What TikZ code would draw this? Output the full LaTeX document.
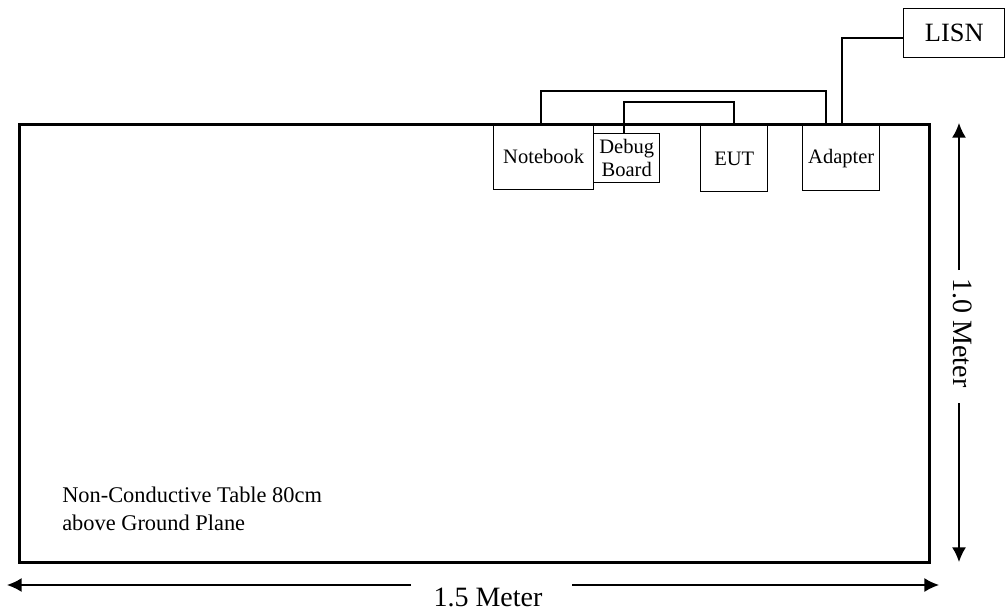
\documentclass[tikz,border=0pt]{standalone}
\usepackage{fontspec}
\setmainfont{Liberation Serif}
\usetikzlibrary{arrows.meta}
\begin{document}
\begin{tikzpicture}[x=0.75pt,y=-0.75pt,
  dev/.style={draw, line width=1.1pt, inner sep=0pt, font=\fontsize{15.4}{17}\selectfont, align=center},
  wire/.style={line width=0.8pt},
  dim/.style={line width=1.1pt},
  tip/.style={-{Latex[length=11pt,width=10.5pt]}}]
\useasboundingbox (0,0) rectangle (1007,611);
% table
\node[draw, line width=2.3pt, minimum width=910*0.75pt, minimum height=438.5*0.75pt, inner sep=0pt, anchor=north west] (tab) at (18,122.5) {};
\node[anchor=base west, inner sep=0pt, align=left, font=\fontsize{16.8}{21}\selectfont] (lbl) at (62,530) {Non-Conductive Table 80cm\\above Ground Plane};
% devices
\node[dev, minimum width=100*0.75pt, minimum height=66*0.75pt, anchor=north west] (nb) at (493,123) {Notebook};
\node[dev, minimum width=66*0.75pt, minimum height=49*0.75pt, anchor=north west] (db) at (593,133) {Debug\\Board};
\node[dev, minimum width=67*0.75pt, minimum height=66*0.75pt, anchor=north west] (eut) at (700,125) {EUT};
\node[dev, minimum width=77*0.75pt, minimum height=65*0.75pt, anchor=north west] (ad) at (802,125) {Adapter};
\node[dev, minimum width=101*0.75pt, minimum height=49*0.75pt, anchor=north west, font=\fontsize{19.8}{22}\selectfont] (lisn) at (903,8) {LISN};
% wires
\draw[wire] (nb.north -| 541,0) -- (541,91) -- (826,91) -- (ad.north -| 826,0);
\draw[wire] (db.north -| 624,0) -- (624,102) -- (734,102) -- (eut.north -| 734,0);
\draw[wire] (ad.north -| 842,0) |- (lisn.west |- 0,38);
% dimensions
\node[font=\fontsize{21}{24}\selectfont, inner sep=0pt] (hl) at (488,597) {1.5 Meter};
\coordinate (hL) at (7,585);
\coordinate (hR) at (939,585);
\coordinate (hg1) at (411,585);
\coordinate (hg2) at (572,585);
\draw[dim, tip] (hg1) -- (hL);
\draw[dim, tip] (hg2) -- (hR);
\node[font=\fontsize{21}{24}\selectfont, inner sep=0pt, rotate=-90] (vl) at (963,333) {1.0 Meter};
\coordinate (vT) at (959,123);
\coordinate (vB) at (959,562);
\coordinate (vg1) at (959,270);
\coordinate (vg2) at (959,403);
\draw[dim, tip] (vg1) -- (vT);
\draw[dim, tip] (vg2) -- (vB);
\end{tikzpicture}
\end{document}
